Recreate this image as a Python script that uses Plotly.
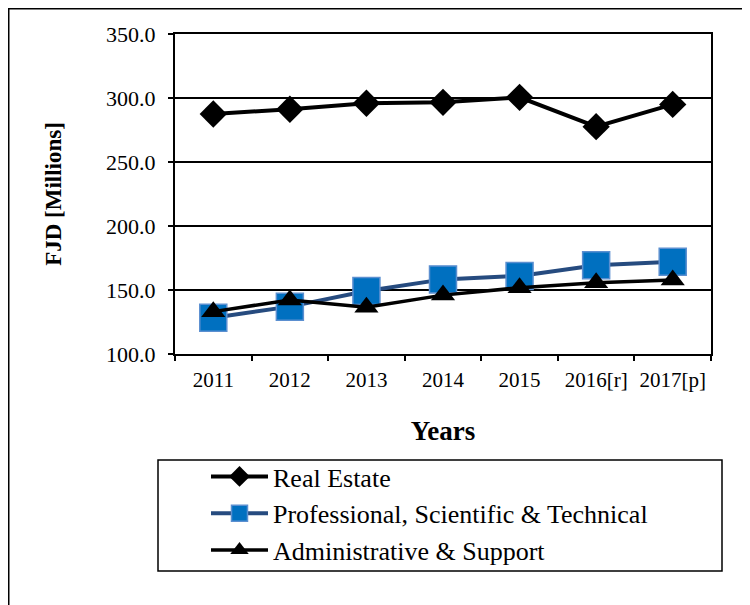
import plotly.graph_objects as go

years = ["2011", "2012", "2013", "2014", "2015", "2016[r]", "2017[p]"]
real_estate = [287.5, 291.2, 295.9, 296.6, 300.5, 277.6, 295.0]
professional = [128.4, 137.0, 149.2, 158.3, 161.0, 169.3, 172.1]
administrative = [133.1, 142.2, 136.5, 146.0, 151.8, 155.7, 157.8]
y_ticks = [100, 150, 200, 250, 300, 350]

# the page body adds an 8px offset, so the figure is drawn 8px smaller
W, H = 742, 597
L, T = 167, 26
R, B = W - 703, H - 346
PW, PH = W - L - R, H - T - B


def px(x):
    return (x - L) / PW


def py(y):
    return (H - B - y) / PH


FONT = "Liberation Serif, Times New Roman, serif"

fig = go.Figure()
fig.add_trace(go.Scatter(
    x=years, y=real_estate, name="Real Estate", mode="lines+markers",
    legendgroup="a",
    line=dict(color="black", width=4),
    marker=dict(symbol="diamond", size=21, color="black", line=dict(width=0)),
))
fig.add_trace(go.Scatter(
    x=years, y=professional, name="Professional, Scientific & Technical", mode="lines+markers",
    legendgroup="b",
    line=dict(color="#264B7F", width=4),
    marker=dict(symbol="square", size=27, color="#0070C0", line=dict(width=1.5, color="#5B8FD0")),
))
fig.add_trace(go.Scatter(
    x=years, y=administrative, name="Administrative & Support", mode="lines+markers",
    legendgroup="c",
    line=dict(color="black", width=3.5),
    marker=dict(symbol="triangle-up", size=21, color="black", line=dict(width=0)),
))

# outer frame and legend frame
fig.add_shape(type="rect", xref="paper", yref="paper",
              x0=px(0.75), x1=px(760), y0=py(620), y1=py(0.75),
              line=dict(color="black", width=1.5), layer="below")
fig.add_shape(type="rect", xref="paper", yref="paper",
              x0=px(150), x1=px(714), y0=py(563), y1=py(452),
              line=dict(color="black", width=1.5), layer="below")

fig.update_layout(
    width=W, height=H,
    margin=dict(l=L, r=R, t=T, b=B),
    paper_bgcolor="white", plot_bgcolor="white",
    font=dict(family=FONT, color="black", size=22),
    legend=dict(
        x=px(198), y=py(445), xanchor="left", yanchor="top",
        bgcolor="rgba(0,0,0,0)", borderwidth=0,
        font=dict(family=FONT, size=26, color="black"),
        tracegroupgap=0, itemwidth=57,
    ),
    xaxis=dict(
        type="category", range=[-0.5, 6.5],
        showline=True, linecolor="black", linewidth=2, mirror=True,
        ticks="outside", ticklen=5, tickwidth=1.5, tickcolor="black",
        tickson="boundaries", showgrid=False,
        tickangle=0,
        tickfont=dict(family=FONT, size=21),
        ticklabelstandoff=6,
        title=dict(text="<b>Years</b>", font=dict(family=FONT, size=27), standoff=30),
    ),
    yaxis=dict(
        range=[100, 350], tickvals=y_ticks, tickformat=".1f",
        showline=True, linecolor="black", linewidth=2, mirror=True,
        ticks="outside", ticklen=5, tickwidth=1.5, tickcolor="black",
        showgrid=True, gridcolor="black", gridwidth=1.5,
        zeroline=False,
        tickfont=dict(family=FONT, size=22),
        ticklabelstandoff=8,
        title=dict(text="<b>FJD [Millions]</b>", font=dict(family=FONT, size=23), standoff=38),
    ),
)

fig.write_html("out.html")
